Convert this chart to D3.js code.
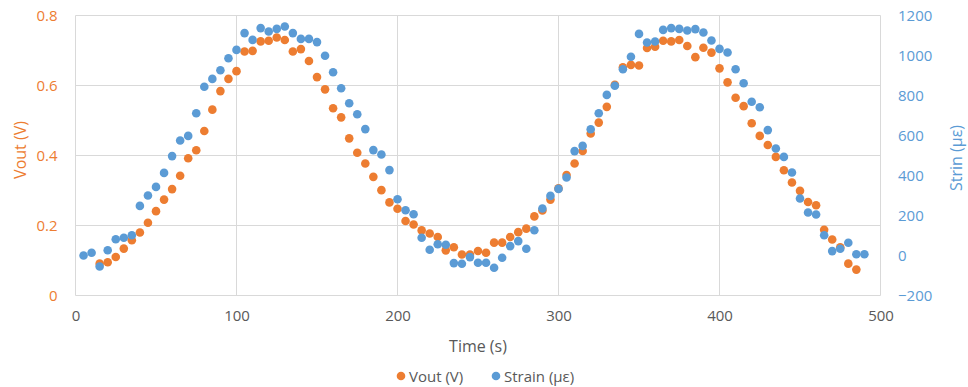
<!DOCTYPE html>
<html><head><meta charset="utf-8">
<script src="https://cdn.jsdelivr.net/npm/d3@7"></script>
<style>
html,body{margin:0;padding:0;background:#fff;}
svg{display:block;font-family:"Open Sans",sans-serif;}
</style></head>
<body><svg id="c" width="968" height="387"></svg>
<script>
const timeS = [5,10,15,20,25,30,35,40,45,50,55,60,65,70,75,80,85,90,95,100,
105,110,115,120,125,130,135,140,145,150,155,160,165,170,175,180,185,190,195,200,
205,210,215,220,225,230,235,240,245,250,255,260,265,270,275,280,285,290,295,300,
305,310,315,320,325,330,335,340,345,350,355,360,365,370,375,380,385,390,395,400,
405,410,415,420,425,430,435,440,445,450,455,460,465,470,475,480,485,490];
const vout = [null,null,0.091,0.095,0.110,0.134,0.158,0.180,0.208,0.241,0.274,0.304,0.342,0.392,0.415,0.470,0.531,0.584,0.619,0.641,
0.697,0.699,0.726,0.728,0.737,0.730,0.697,0.704,0.670,0.624,0.589,0.535,0.509,0.449,0.408,0.377,0.339,0.301,0.266,0.248,
0.213,0.203,0.186,0.177,0.167,0.129,0.138,0.117,0.117,0.127,0.122,0.151,0.151,0.167,0.181,0.191,0.226,0.243,0.274,0.306,
0.344,0.377,0.413,0.463,0.494,0.539,0.602,0.652,0.659,0.657,0.707,0.711,0.728,0.726,0.730,0.713,0.681,0.708,0.694,0.649,
0.609,0.565,0.541,0.492,0.456,0.430,0.396,0.358,0.323,0.299,0.267,0.258,0.188,0.160,0.138,0.091,0.074,null];
const strain = [0,14,-55,26,81,89,101,248,300,343,413,497,575,598,711,844,883,926,986,1028,
1112,1078,1137,1120,1133,1145,1112,1083,1083,1067,999,916,836,761,706,632,527,505,427,281,
226,206,89,29,56,54,-38,-41,-8,-36,-36,-61,-11,47,72,34,126,235,298,333,
390,522,548,631,711,803,849,931,994,1108,1065,1070,1128,1137,1133,1125,1132,1115,1075,1033,
1015,931,861,769,741,627,535,493,415,285,215,205,101,22,34,64,6,6];
const xTicks = [0,100,200,300,400,500];
const yLeftTicks = [0,0.2,0.4,0.6,0.8];
const yRightTicks = [-200,0,200,400,600,800,1000,1200];
const seriesNames = ["Vout (V)","Strain (\u03bc\u03b5)"];
const colors = ["#ED7D31","#5B9BD5"];

const svg = d3.select("#c");
const x = d3.scaleLinear().domain([0,500]).range([75.5,880.5]);
const yL = d3.scaleLinear().domain([0,0.8]).range([295.5,15.5]);
const yR = d3.scaleLinear().domain([-200,1200]).range([295.5,15.5]);
const grid = "#D9D9D9";

// gridlines
svg.append("g").selectAll("line").data(yLeftTicks).join("line")
  .attr("x1",x(0)).attr("x2",x(500)).attr("y1",d=>yL(d)).attr("y2",d=>yL(d))
  .attr("stroke",grid).attr("stroke-width",1);
svg.append("g").selectAll("line").data(xTicks).join("line")
  .attr("y1",yL(0)).attr("y2",yL(0.8)).attr("x1",d=>x(d)).attr("x2",d=>x(d))
  .attr("stroke",grid).attr("stroke-width",1);

// axes
const ax = svg.append("g").attr("transform","translate(0,295)")
  .call(d3.axisBottom(x).tickValues(xTicks).tickSize(0).tickPadding(15).tickFormat(d3.format("d")));
ax.select(".domain").remove();
ax.selectAll("text").attr("fill","#595959").attr("font-size","15px").attr("font-family","Open Sans");

const al = svg.append("g").attr("transform","translate(75.5,0)")
  .call(d3.axisLeft(yL).tickValues(yLeftTicks).tickSize(0).tickPadding(18).tickFormat(d=>d===0?"0":d.toFixed(1)));
al.select(".domain").remove();
al.selectAll("text").attr("fill","#ED7D31").attr("font-size","15px").attr("font-family","Open Sans");

const ar = svg.append("g").attr("transform","translate(880.5,0)")
  .call(d3.axisRight(yR).tickValues(yRightTicks).tickSize(0).tickPadding(17.5).tickFormat(d3.format("d")));
ar.select(".domain").remove();
ar.selectAll("text").attr("fill","#5B9BD5").attr("font-size","15px").attr("font-family","Open Sans");

// titles
svg.append("text").attr("x",478).attr("y",352).attr("text-anchor","middle")
  .attr("fill","#595959").attr("font-size","16px").text("Time (s)");
svg.append("text").attr("transform","translate(26,150) rotate(-90)").attr("text-anchor","middle")
  .attr("fill","#ED7D31").attr("font-size","16px").text("Vout (V)");
svg.append("text").attr("transform","translate(962,158) rotate(-90)").attr("text-anchor","middle")
  .attr("fill","#5B9BD5").attr("font-size","16px").text("Strin (\u03bc\u03b5)");

// points
const ptsV = timeS.map((t,i)=>({t,v:vout[i]})).filter(d=>d.v!==null);
const ptsS = timeS.map((t,i)=>({t,v:strain[i]})).filter(d=>d.v!==null);
svg.append("g").selectAll("circle").data(ptsV).join("circle")
  .attr("cx",d=>x(d.t)).attr("cy",d=>yL(d.v)).attr("r",4.3).attr("fill",colors[0]);
svg.append("g").selectAll("circle").data(ptsS).join("circle")
  .attr("cx",d=>x(d.t)).attr("cy",d=>yR(d.v)).attr("r",4.3).attr("fill",colors[1]);

// legend
const leg = svg.append("g");
const legItems = [{n:seriesNames[0],c:colors[0],x:401},{n:seriesNames[1],c:colors[1],x:496}];
legItems.forEach(it=>{
  leg.append("circle").attr("cx",it.x).attr("cy",376).attr("r",4.3).attr("fill",it.c);
  leg.append("text").attr("x",it.x+8).attr("y",381.5).attr("fill","#595959")
    .attr("font-size","15px").text(it.n);
});
</script></body></html>
